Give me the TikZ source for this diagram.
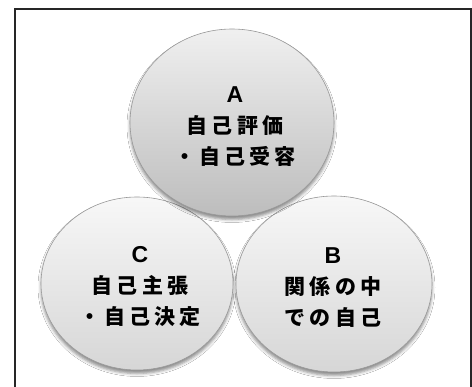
\documentclass[tikz,border=0pt]{standalone}
\usepackage{fontspec}
\newfontfamily\jpb{Noto Sans CJK JP}[LetterSpace=20]
\newfontfamily\latb{Liberation Sans}[BoldFont={Liberation Sans Bold}]
\usetikzlibrary{shapes.geometric,shadows.blur}
\tikzset{
  bubble/.style={ellipse, inner sep=0pt, draw=black!40, line width=0.6pt,
    shading=axis, shading angle=0,
    blur shadow={shadow xshift=0pt, shadow yshift=-3.5pt, shadow blur radius=3pt, shadow opacity=45}},
  bubbletop/.style={bubble, top color=black!6, bottom color=black!26},
  bubblelow/.style={bubble, top color=black!3, bottom color=black!16},
  lbl/.style={align=center, inner sep=0pt, font={\jpb\bfseries\fontsize{21}{31}\selectfont}}
}
\newcommand{\capl}[1]{{\latb\bfseries\fontsize{23}{31}\selectfont #1}}
\begin{document}
\begin{tikzpicture}[x=1pt,y=1pt]
\useasboundingbox (0,0) rectangle (472,387);
\clip (0,0) rectangle (472,387);
\fill[white] (0,0) rectangle (472,387);
\draw[draw=black!85, line width=1.6pt] (15,-5) -- (15,378) -- (471,378) -- (471,-5);
\node[bubblelow, minimum width=192pt, minimum height=173pt] (C) at (137,103.5) {};
\node[bubblelow, minimum width=196pt, minimum height=176pt] (B) at (334,103) {};
\node[bubbletop, minimum width=204pt, minimum height=187pt] (A) at (232,264.5) {};
\node[lbl] (tA) at ([xshift=3pt,yshift=-4pt]A.center) {\capl{A}\\自己評価\\・自己受容};
\node[lbl] (tC) at ([xshift=3pt,yshift=-3pt]C.center) {\capl{C}\\自己主張\\・自己決定};
\node[lbl] (tB) at ([xshift=-1pt,yshift=-4pt]B.center) {\capl{B}\\関係の中\\での自己};
\end{tikzpicture}
\end{document}
